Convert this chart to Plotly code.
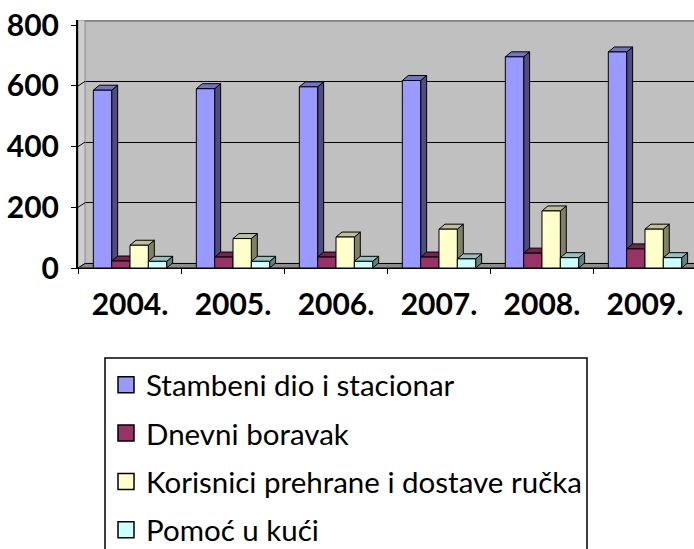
import plotly.graph_objects as go

# ---------------- data ----------------
years = ["2004.", "2005.", "2006.", "2007.", "2008.", "2009."]
series_names = ["Stambeni dio i stacionar", "Dnevni boravak",
                "Korisnici prehrane i dostave ručka", "Pomoć u kući"]
stambeni = [586, 591, 597, 618, 696, 712]
dnevni = [23, 36, 36, 36, 49, 63]
prehrana = [75, 97, 102, 128, 188, 128]
pomoc = [22, 22, 22, 30, 34, 34]
y_ticks = [0, 200, 400, 600, 800]

front_colors = ["#9999FF", "#993366", "#FFFFCC", "#CCFFFF"]
side_colors = ["#4D4D80", "#4D1A33", "#808066", "#668080"]
top_colors = ["#7373C0", "#73264D", "#BFBF99", "#99BFBF"]

# ---------------- geometry ----------------
FIG_W, FIG_H = 694, 549
M_L, M_R, M_T, M_B = 78, 0, 20, 281
PW, PH = FIG_W - M_L - M_R, FIG_H - M_T - M_B


def px_to_paper_x(px):
    return (px - M_L) / PW


def px_to_paper_y(py):
    return (FIG_H - M_B - py) / PH


BAR_W = 0.178       # bar width in category units
GROUP_OFF = -0.356  # left edge of the group relative to category centre
DX = 0.058          # depth offset in x (category units)
DY = 16.5           # depth offset in y (value units)
WALL = 15           # back wall offset in value units
X_RANGE = [-0.505, 5.476]
Y_TOP = 817.4
WX = X_RANGE[0] + 0.068  # back wall left edge

fig = go.Figure()

all_series = [stambeni, dnevni, prehrana, pomoc]
for s, (name, vals) in enumerate(zip(series_names, all_series)):
    fx, fy, sx, sy, tx, ty = [], [], [], [], [], []
    for k, v in enumerate(vals):
        x0 = k + GROUP_OFF + s * BAR_W
        x1 = x0 + BAR_W
        fx += [x0, x1, x1, x0, x0, None]
        fy += [0, 0, v, v, 0, None]
        sx += [x1, x1 + DX, x1 + DX, x1, x1, None]
        sy += [0, DY, v + DY, v, 0, None]
        tx += [x0, x1, x1 + DX, x0 + DX, x0, None]
        ty += [v, v, v + DY, v + DY, v, None]
    for xs, ys, col in ((sx, sy, side_colors[s]), (tx, ty, top_colors[s]),
                        (fx, fy, front_colors[s])):
        fig.add_trace(go.Scatter(
            x=xs, y=ys, mode="lines", fill="toself", fillcolor=col,
            line=dict(color="black", width=1), showlegend=False,
            hoverinfo="skip"))

for s, name in enumerate(series_names):
    fig.add_trace(go.Scatter(
        x=[None], y=[None], yaxis="y2", mode="markers", name=name,
        legendgroup=name,
        marker=dict(symbol="square", size=16, color=front_colors[s],
                    line=dict(color="black", width=1.5))))

# ---------------- walls / floor ----------------
shapes = []
shapes.append(dict(type="path", xref="x", yref="y",
                   path=f"M {X_RANGE[0]},0 L 6.5,0 L 6.5,{WALL} L {WX},{WALL} Z",
                   fillcolor="#8C8C8C", line=dict(color="black", width=1),
                   layer="between"))
shapes.append(dict(type="path", xref="x", yref="y",
                   path=f"M {X_RANGE[0]},0 L {WX},{WALL} L {WX},{Y_TOP} L {X_RANGE[0]},{Y_TOP} Z",
                   fillcolor="#CFCFCF", line=dict(color="#8C8C8C", width=1),
                   layer="between"))
for t in y_ticks[:-1]:
    shapes.append(dict(type="line", xref="x", yref="y",
                       x0=X_RANGE[0], y0=t, x1=WX, y1=t + WALL,
                       line=dict(color="black", width=1), layer="between"))
shapes.append(dict(type="line", xref="x", yref="y",
                   x0=WX, x1=6.5, y0=800 + WALL, y1=800 + WALL,
                   line=dict(color="#808080", width=2), layer="between"))
# legend box (extends below the picture, as in the original)
shapes.append(dict(type="rect", xref="paper", yref="paper",
                   x0=px_to_paper_x(105), x1=px_to_paper_x(587),
                   y0=px_to_paper_y(580), y1=px_to_paper_y(358),
                   line=dict(color="black", width=1.5), fillcolor="rgba(0,0,0,0)"))

tick_font = dict(family="Lato", size=30, color="black", weight="bold")

fig.update_layout(
    width=FIG_W, height=FIG_H,
    margin=dict(l=M_L, r=M_R, t=M_T, b=M_B, autoexpand=False),
    paper_bgcolor="white", plot_bgcolor="#C0C0C0",
    hovermode=False,
    shapes=shapes,
    xaxis=dict(range=X_RANGE, tickmode="array", tickvals=list(range(len(years))),
               ticktext=years, ticks="", showgrid=False, zeroline=False,
               showline=True, linecolor="black", linewidth=1, automargin=False,
               tickfont=tick_font, ticklabelstandoff=10,
               minor=dict(tickmode="linear", tick0=-0.5, dtick=1, ticks="outside",
                          ticklen=5, tickcolor="black", showgrid=False)),
    yaxis=dict(range=[0, Y_TOP], tickmode="array", tickvals=y_ticks,
               ticks="outside", ticklen=5, tickcolor="black", automargin=False,
               showline=True, linecolor="black", linewidth=2,
               showgrid=False, zeroline=False, tickfont=tick_font,
               ticklabelstandoff=6),
    yaxis2=dict(range=[-WALL, Y_TOP - WALL], overlaying="y", tickmode="array",
                tickvals=y_ticks[:-1], showticklabels=False, ticks="",
                showgrid=True, gridcolor="black", gridwidth=1, zeroline=False,
                showline=False, automargin=False),
    legend=dict(xref="container", yref="container",
                x=106/FIG_W, y=1 - 359/FIG_H, xanchor="left", yanchor="top",
                bgcolor="rgba(0,0,0,0)", borderwidth=0,
                font=dict(family="Lato", size=29.5, color="black"),
                tracegroupgap=7, itemwidth=30),
)

fig.write_html("out.html",
               config={"displayModeBar": False, "staticPlot": True},
               post_script="document.body.style.margin='0';"
                           "document.body.style.overflow='hidden';")
